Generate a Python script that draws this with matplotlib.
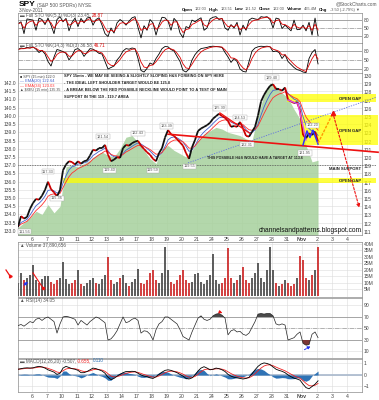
import numpy as np
import pandas as pd
import matplotlib
matplotlib.use("Agg")
import matplotlib.pyplot as plt
from matplotlib.patches import Rectangle
from matplotlib.collections import LineCollection

plt.rcParams["font.family"] = ["Liberation Sans", "DejaVu Sans"]

W, H = 379, 400

# trading days shown on the x axis (Oct 6 .. Nov 4)
days = ["6", "7", "10", "11", "12", "13", "14", "17", "18", "19", "20", "21",
        "24", "25", "26", "27", "28", "31", "Nov", "2", "3", "4"]

# SPY 15 min, sampled about 5 times a day from Oct 5 to Nov 1
spy = [111.6, 112.9, 112.6, 112.8, 113.8, 114.5, 115.0, 114.9, 115.4, 116.1,
       117.1, 116.2, 115.8, 115.3, 116.1, 118.5, 119.2, 119.6, 119.5, 119.2,
       119.6, 119.3, 119.6, 119.7, 120.3, 121.0, 120.9, 121.2, 121.2, 121.6,
       120.4, 119.6, 119.8, 120.1, 120.0, 121.2, 121.6, 121.5, 121.8, 122.0,
       122.1, 121.5, 121.1, 120.7, 120.4, 119.9, 119.6, 120.6, 121.2, 122.5,
       123.4, 122.9, 122.7, 122.3, 121.9, 121.5, 120.6, 119.9, 121.3, 122.2,
       123.3, 123.6, 123.8, 124.0, 124.3, 124.8, 125.1, 125.4, 125.1, 124.9,
       124.5, 123.8, 123.9, 123.8, 124.4, 123.6, 122.7, 122.6, 123.2, 123.8,
       125.2, 126.9, 127.7, 128.3, 128.8, 129.0, 128.4, 128.4, 128.2, 128.6,
       127.1, 126.9, 126.7, 126.8, 125.8, 122.8, 122.4, 123.0, 122.8, 123.2,
       122.0]

# $XEU overlay (left scale)
xeu = [133.2, 133.5, 133.8, 134.2, 134.0, 134.6, 134.1, 134.5, 136.9, 137.0,
       136.9, 137.1, 137.3, 137.6, 137.8, 137.6, 137.5, 138.0, 138.7, 138.8,
       138.4, 137.9, 137.4, 137.1, 138.0, 138.2, 137.9, 137.7, 137.5, 137.9,
       138.5, 138.9, 139.1, 139.3, 139.2, 139.0, 138.9, 138.8, 138.6, 138.5,
       140.0, 141.3, 142.0, 141.8, 141.4, 141.1, 140.4, 139.8, 138.2, 137.2,
       137.3]

# volume in millions
volume = [10, 18, 12, 14, 16, 24, 12, 10, 13, 15,
          15, 11, 9, 12, 14, 26, 13, 9, 10, 12,
          20, 9, 8, 10, 12, 14, 10, 9, 13, 16,
          30, 12, 9, 11, 14, 16, 10, 8, 11, 13,
          21, 10, 9, 12, 18, 20, 12, 10, 18, 38,
          20, 11, 9, 12, 16, 20, 12, 10, 11, 17,
          18, 11, 9, 12, 16, 32, 12, 9, 10, 14,
          37, 14, 10, 12, 16, 22, 12, 10, 14, 18,
          25, 14, 11, 20, 38, 20, 10, 8, 9, 12,
          10, 8, 9, 14, 31, 28, 14, 12, 16, 20,
          38]

sto_fast = [65, 72, 30, 82, 80, 78, 42, 85, 80, 62,
            85, 60, 30, 80, 90, 72, 84, 40, 70, 85,
            55, 84, 68, 85, 88, 60, 80, 86, 60, 30,
            20, 50, 32, 68, 80, 72, 60, 74, 86, 90,
            52, 15, 58, 42, 80, 68, 25, 62, 88, 86,
            74, 42, 84, 72, 32, 16, 55, 50, 78, 72,
            80, 86, 42, 50, 82, 88, 90, 80, 84, 50,
            42, 62, 50, 70, 25, 60, 42, 78, 85, 82,
            80, 90, 88, 90, 80, 50, 85, 82, 48, 60,
            50, 40, 78, 44, 45, 60, 40, 70, 25, 85,
            23]

sto_slow = [85, 90, 88, 92, 90, 94, 86, 75, 82, 70,
            45, 30, 60, 85, 82, 78, 72, 50, 65, 85,
            88, 80, 62, 75, 88, 86, 80, 72, 70, 45,
            20, 25, 30, 50, 62, 80, 88, 86, 90, 88,
            55, 15, 10, 22, 40, 35, 55, 70, 88, 95,
            94, 85, 80, 62, 45, 15, 10, 20, 50, 68,
            80, 88, 90, 92, 95, 96, 95, 94, 92, 75,
            60, 42, 55, 45, 20, 12, 10, 45, 80, 90,
            94, 96, 95, 96, 94, 78, 80, 75, 55, 68,
            45, 35, 25, 18, 15, 10, 8, 55, 75, 85,
            37]

rsi = [55, 57, 54, 58, 62, 60, 66, 68, 64, 68,
       70, 66, 62, 42, 58, 70, 71, 70, 68, 66,
       56, 64, 60, 56, 62, 66, 70, 68, 64, 60,
       30, 32, 38, 46, 58, 70, 60, 62, 66, 68,
       64, 42, 46, 45, 40, 30, 48, 58, 62, 70,
       70, 66, 62, 58, 48, 36, 33, 30, 44, 56,
       68, 72, 66, 64, 66, 72, 75, 76, 73, 68,
       39, 46, 48, 44, 45, 40, 38, 42, 52, 62,
       75, 76, 75, 76, 76, 72, 58, 56, 58, 56,
       30, 32, 34, 40, 44, 24, 21, 22, 40, 44,
       34]

macd = [0.5, 0.55, 0.6, 0.62, 0.6, 0.62, 0.7, 0.75, 0.7, 0.6,
        0.45, 0.35, 0.25, 0.05, 0.15, 0.6, 0.75, 0.65, 0.55, 0.5,
        0.4, 0.2, 0.2, 0.3, 0.45, 0.6, 0.55, 0.45, 0.35, 0.15,
        -0.2, -0.4, -0.3, -0.1, 0.05, 0.2, 0.3, 0.3, 0.32, 0.3,
        0.15, 0.0, -0.1, -0.15, -0.25, -0.3, -0.15, 0.05, 0.25, 0.4,
        0.45, 0.4, 0.3, 0.2, 0.05, -0.1, -0.3, -0.35, -0.25, 0.0,
        0.35, 0.6, 0.72, 0.6, 0.45, 0.5, 0.6, 0.55, 0.45, 0.3,
        0.05, -0.1, -0.2, -0.25, -0.3, -0.35, -0.3, -0.2, 0.1, 0.45,
        0.75, 0.95, 1.05, 1.0, 0.9, 0.7, 0.5, 0.4, 0.32, 0.2,
        0.0, -0.15, -0.28, -0.35, -0.45, -0.8, -1.1, -1.2, -1.0, -0.8,
        -0.51]

# hand drawn annotations (day index, price)
gap_top = (17.0, 22.93, 126.8, 127.8)
gap_box = (17.87, 23.07, 121.6, 125.2)
gap_low = (2.07, 22.93, 116.95, 117.6)
main_support = 119.1
neckline = ([9.07, 23.07], [122.9, 120.7])
shoulder = ([12.53, 14.53], [125.5, 123.0])
trend_blue = ([10.4, 22.93], [119.4, 127.4])
path_purple = ([17.07, 17.73, 18.27], [127.07, 126.6, 122.2])
path_blue = ([18.07, 18.33, 18.53, 18.73, 19.07], [121.6, 123.3, 122.5, 123.4, 121.7])
path_orange = ([19.07, 20.07], [121.8, 125.5])
path_red = ([20.07, 21.87], [125.4, 113.6])
price_tags = [(-0.5, 111.0, "111.56"), (1.07, 118.3, "117.33"), (1.67, 115.1, "115.36"),
              (4.73, 122.6, "121.54"), (5.2, 118.5, "119.40"), (7.07, 123.0, "122.43"),
              (8.07, 118.5, "119.59"), (9.0, 123.9, "123.39"), (10.5, 119.0, "119.55"),
              (12.53, 126.1, "125.30"), (13.87, 124.9, "124.53"), (14.33, 121.6, "122.31"),
              (16.0, 129.8, "129.40"), (18.73, 124.0, "122.20"), (18.2, 120.6, "121.95")]

T0, T1 = -0.93, 19.07
XMIN, XMAX = -0.93, 22.0


def t_of(arr):
    return np.linspace(T0, T1, len(arr))


fig = plt.figure(figsize=(W / 100, H / 100), dpi=100)
rend = fig.canvas.get_renderer()


def ftext(x, y, s, **kw):
    kw.setdefault("fontsize", 3.6)
    kw.setdefault("va", "center")
    return fig.text(x / W, 1 - y / H, s, **kw)


def chain(x, y, pieces, gap=1.5, width=None):
    # pieces written one after another on one line, each in its own style;
    # with a width, the fonts are scaled so the whole line spans it
    texts = [ftext(x, y, s, **kw) for s, kw in pieces]
    if width:
        tw = sum(t.get_window_extent(rend).width for t in texts)
        k = (width - gap * (len(texts) - 1)) / tw
        for t in texts:
            t.set_fontsize(t.get_fontsize() * k)
    for t in texts:
        t.set_x(x / W)
        x = t.get_window_extent(rend).x1 + gap
    return texts


def fit(t, width):
    # shrink or grow a text so that it spans the given number of pixels
    w = t.get_window_extent(rend).width
    t.set_fontsize(t.get_fontsize() * width / w)
    return t.get_fontsize()


def panel(top, bottom):
    ax = fig.add_axes([18 / W, 1 - bottom / H, (362 - 18) / W, (bottom - top) / H])
    ax.set_xlim(XMIN, XMAX)
    ax.set_xticks(range(len(days)))
    ax.set_xticklabels([])
    ax.grid(True, color="#dcdcdc", lw=0.4)
    ax.set_axisbelow(True)
    ax.yaxis.tick_right()
    ax.tick_params(length=0, labelsize=3.6, pad=1.5, colors="#444444")
    for s in ax.spines.values():
        s.set_color("#8c8c8c")
        s.set_linewidth(0.5)
    return ax


def date_labels(ax):
    ax.set_xticklabels(days, fontsize=3.8)
    ax.tick_params(axis="x", pad=1.5)
    ax.get_xticklabels()[days.index("Nov")].set_fontweight("bold")


def levels(ax, solid, dashed):
    for v in solid:
        ax.axhline(v, color="#9a9a9a", lw=0.6, zorder=1)
    for v in dashed:
        ax.axhline(v, color="#9a9a9a", lw=0.5, ls="-.", zorder=1)


grey = dict(fontsize=3.3, color="#555555")

# ---- header
chain(19, 5, [("SPY", dict(fontsize=6, fontweight="bold")),
              ("(S&P 500 SPDRs) NYSE", dict(fontsize=3.5, color="#555555"))])
ftext(19, 11, "3-Nov-2011", fontsize=3.4, color="#555555")
ftext(377, 3.5, "@StockCharts.com", fontsize=3.4, color="#555555", ha="right")
b = dict(fontsize=3.7, fontweight="bold", color="#111111")
v = dict(fontsize=3.3, color="#555555")
chain(182, 9.5, [("Open", b), ("122.03", v), ("High", b), ("123.51", v), ("Low", b),
                 ("121.52", v), ("Close", b), ("122.00", v), ("Volume", b), ("465.4M", v),
                 ("Chg", b), ("-3.50 (-2.79%) \u25bc", v)], gap=2.0, width=180)

# ---- fast stochastic
ax1 = panel(13, 43)
ax1.set_ylim(-3, 103)
ax1.set_yticks([20, 50, 80])
levels(ax1, [20, 80], [50])
k1 = pd.Series(sto_fast)
ax1.plot(t_of(sto_fast), k1, color="black", lw=0.6)
ax1.plot(t_of(sto_fast), k1.ewm(span=3, adjust=False).mean(), color="#dd0000", lw=0.6)
chain(20, 15.5, [("\u25ac Full STO %K(5,3) %D(3) 23.45,", grey),
                 ("28.87", dict(fontsize=3.3, color="#dd0000"))], gap=1)

# ---- slow stochastic
ax2 = panel(43, 73)
ax2.set_ylim(6.7, 106.7)
ax2.set_yticks([20, 50, 80])
levels(ax2, [20, 80], [50])
k2 = pd.Series(sto_slow)
ax2.plot(t_of(sto_slow), k2, color="black", lw=0.6)
ax2.plot(t_of(sto_slow), k2.ewm(span=3, adjust=False).mean(), color="#dd0000", lw=0.6)
chain(20, 45.5, [("\u25ac Full STO %K(14,3) %D(3) 36.58,", grey),
                 ("46.71", dict(fontsize=3.3, color="#dd0000"))], gap=1)

# ---- price panel: $XEU mountain on the left scale, SPY on the right
ax3 = panel(73, 235)
ax3.yaxis.tick_left()
ax3.set_ylim(132.75, 142.61)
ax3.set_yticks(np.arange(133.0, 142.01, 0.5))
ax3.set_yticklabels([f"{v:.1f}" for v in np.arange(133.0, 142.01, 0.5)])
ax3.fill_between(t_of(xeu), xeu, 132.0, color="#a6d19c", alpha=0.85, lw=0, zorder=2)
date_labels(ax3)

ax3r = ax3.twinx()
ax3r.set_xlim(XMIN, XMAX)
ax3r.set_ylim(110.6, 130.37)
ax3r.set_yticks(range(111, 131))
ax3r.tick_params(length=0, labelsize=3.6, pad=1.5, colors="#444444")
for s in ax3r.spines.values():
    s.set_visible(False)

for a, b_, lo, hi in [gap_low, gap_top, gap_box]:
    ax3r.add_patch(Rectangle((a, lo), b_ - a, hi - lo, color="#ffff00", alpha=0.75,
                             lw=0, zorder=3, clip_on=False))
ax3r.plot([XMIN, 22.93], [main_support, main_support], color="#555555", lw=0.6,
          ls=(0, (1, 1)), zorder=4, clip_on=False)

sp = pd.Series(spy)
tp = t_of(spy)
ax3r.plot(tp, sp.ewm(span=4, adjust=False).mean(), color="#4060d0", lw=0.6, zorder=5)
ax3r.plot(tp, sp.ewm(span=7, adjust=False).mean(), color="#ff3030", lw=0.6, zorder=5)
pts = np.column_stack([tp, spy])
segs = np.stack([pts[:-1], pts[1:]], axis=1)
cols = ["#cc0000" if q < p else "#111111" for p, q in zip(spy[:-1], spy[1:])]
ax3r.add_collection(LineCollection(segs, colors=cols, linewidths=1.3, zorder=6))

ax3r.plot(*neckline, color="#ee1111", lw=1.2, zorder=7, clip_on=False)
ax3r.plot(*shoulder, color="#ee1111", lw=0.9, zorder=7)
ax3r.plot(*trend_blue, color="#6070e0", lw=0.6, ls=(0, (1.5, 1.5)), zorder=7, clip_on=False)
ax3r.plot(*path_purple, color="#e050e0", lw=1.0, zorder=7)
ax3r.plot(*path_blue, color="#3030ff", lw=1.1, zorder=7)
ax3r.plot(*path_orange, color="#ff9900", lw=1.0, ls=(0, (2, 1)), zorder=7)
ax3r.plot(path_orange[0][1], path_orange[1][1], marker="^", color="#ee1111", ms=3, zorder=8)
ax3r.annotate("", xy=(path_red[0][1], path_red[1][1]), xytext=(path_red[0][0], path_red[1][0]),
              arrowprops=dict(arrowstyle="-|>", color="#ee1111", lw=0.8, ls=(0, (2, 1.5)),
                              mutation_scale=5), zorder=8)

for x, y, s in price_tags:
    ax3r.text(x, y, s, fontsize=2.8, color="#555555", ha="center", va="center", zorder=9,
              clip_on=False, bbox=dict(boxstyle="square,pad=0.15", fc="white", ec="#aaaaaa", lw=0.3))

note = ["SPY 15min - WE MAY BE SEEING A SLIGHTLY SLOPING H&S FORMING ON SPY HERE",
        "- THE IDEAL LEFT SHOULDER TARGET WOULD BE 125.8",
        "- A BREAK BELOW THE RED POSSIBLE NECKLINE WOULD POINT TO A TEST OF MAIN",
        "SUPPORT IN THE 119 - 119.7 AREA"]
bold = dict(fontsize=3.5, fontweight="bold", color="#222222", va="center", zorder=9)
lines = [ax3r.text(2.13, 130.0 - 0.85 * i, s, **bold) for i, s in enumerate(note)]
fs = fit(lines[0], 162)
for t in lines[1:]:
    t.set_fontsize(fs)
hs = ax3r.text(11.67, 120.0, "THIS POSSIBLE H&S WOULD HAVE A TARGET AT 113.6", **bold)
fit(hs, 98)
for y, s in [(127.25, "OPEN GAP"), (123.3, "OPEN GAP"), (117.25, "OPEN GAP"),
             (118.6, "MAIN SUPPORT")]:
    ax3r.text(21.93, y, s, fontsize=3.1, fontweight="bold", color="#222222", ha="right",
              va="center", zorder=9)
blog = ax3r.text(22.0, 111.2, "channelsandpatterns.blogspot.com", fontsize=6, color="#111111",
                 ha="right", va="center", zorder=9)
fit(blog, 105)

legend = [("\u25a0 SPY (15 min) 122.0", "#444444"), ("\u2014 EMA(20) 122.64", "#4060d0"),
          ("\u2014 EMA(34) 123.03", "#ff3030"), ("\u25b2 $XEU (15 min) 135.35", "#444444")]
for i, (s, c) in enumerate(legend):
    fit(ftext(20, 77 + 4.4 * i, s, fontsize=3.0, color=c), 40 if i == 3 else 34)

# ---- volume
ax4 = panel(242, 297)
ax4.set_ylim(-0.8, 41.5)
ax4.set_yticks(range(5, 41, 5))
ax4.set_yticklabels([f"{v}M" for v in range(5, 41, 5)])
vcol = ["#555555"] + ["#cc2222" if q < p else "#444444" for p, q in zip(spy[:-1], spy[1:])]
ax4.bar(t_of(volume), volume, width=0.15, color=vcol, alpha=0.85, lw=0, zorder=3)
ax4.annotate("", xy=(-0.13, 12.3), xytext=(-0.67, 6.9),
             arrowprops=dict(arrowstyle="-|>", color="#2233ee", lw=0.8, mutation_scale=4))
ax4.plot([0.07, 0.73], [17.7, 6.2], color="#ee1111", lw=0.8, zorder=5)
ax4.plot(0.73, 6.2, "o", color="#ee1111", ms=1.5, zorder=5)
ftext(20, 244.5, "\u25b2 Volume 37,890,656", **grey)
fig.add_artist(plt.Line2D([6 / W, 10 / W], [1 - 270 / H, 1 - 276 / H], color="#ee1111", lw=0.9))
fig.add_artist(plt.Line2D([10 / W], [1 - 276 / H], marker=(3, 0, 150), color="#ee1111", ms=2.5))

# ---- RSI
ax5 = panel(298, 358)
ax5.set_ylim(-1.3, 103)
ax5.set_yticks([10, 30, 50, 70, 90])
levels(ax5, [30, 70], [50])
tr = t_of(rsi)
r = np.array(rsi, dtype=float)
ax5.fill_between(tr, r, 70, where=r >= 70, interpolate=True, color="#4a4a4a", lw=0, zorder=2)
ax5.fill_between(tr, r, 30, where=r <= 30, interpolate=True, color="#7a3535", lw=0, zorder=2)
ax5.plot(tr, r, color="#222222", lw=0.5, zorder=3)
ax5.annotate("", xy=(12.87, 75.2), xytext=(12.33, 80.4),
             arrowprops=dict(arrowstyle="-|>", color="#ee1111", lw=0.8, mutation_scale=4))
ax5.annotate("", xy=(18.73, 21.3), xytext=(18.0, 10.8),
             arrowprops=dict(arrowstyle="-|>", color="#2233ee", lw=0.7, ls=(0, (2, 1)),
                             mutation_scale=4))
ftext(20, 300.5, "\u25b2 RSI(14) 34.05", **grey)

# ---- MACD
ax6 = panel(359, 392)
ax6.set_ylim(-1.48, 1.39)
ax6.set_yticks([-1, 0, 1])
m = pd.Series(macd)
sig = m.ewm(span=4, adjust=False).mean()
tm = t_of(macd)
ax6.axhline(0, color="#a8b8cc", lw=1.2, zorder=1)
ax6.fill_between(tm, (m - sig) * 1.5, 0, color="#2f73b5", lw=0, zorder=2)
ax6.plot(tm, sig, color="#ee2222", lw=0.6, zorder=3)
ax6.plot(tm, m, color="black", lw=0.6, zorder=4)
date_labels(ax6)
chain(20, 361, [("\u25ac MACD(12,26,20) -0.507,", grey),
                ("-0.655,", dict(fontsize=3.3, color="#ee2222")),
                ("0.110", dict(fontsize=3.3, color="#2f73b5"))], gap=1)

fig.savefig("out.png", dpi=100)
